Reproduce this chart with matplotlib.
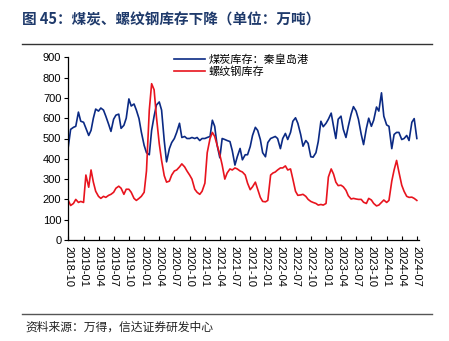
import pandas as pd
import matplotlib.pyplot as plt
import matplotlib.dates as mdates

plt.rcParams['font.family'] = ['Liberation Sans', 'Noto Sans CJK SC', 'DejaVu Sans']

# semi-monthly readings, 2018-10-01 .. 2024-07-01
start_date = "2018-10-01"

coal_qhd = [
    460, 545, 555, 560, 630, 585, 580, 550, 515, 540,
    600, 645, 635, 650, 640, 610, 570, 535, 595, 615,
    620, 550, 565, 600, 695, 660, 670, 640, 598, 532,
    466, 430, 420, 540, 610, 665, 680, 640, 490, 385,
    450, 480, 500, 530, 575, 505, 510, 500, 500, 505,
    500, 505, 490, 500, 500, 505, 510, 590, 560, 470,
    405, 500, 495, 490, 485, 440, 369, 410, 451, 395,
    420, 420, 460, 515, 555, 540, 495, 430, 410, 480,
    500, 505, 510, 500, 450, 500, 525, 495, 530, 585,
    602, 575, 520, 462, 490, 476, 410, 408, 430, 485,
    585, 558, 575, 595, 625, 560, 500, 595, 610, 545,
    505, 560, 620, 657, 635, 595, 520, 470, 550, 600,
    560, 590, 655, 635, 725, 610, 567, 560, 450, 520,
    530, 530, 495, 500, 515, 490, 580, 598, 500,
]

rebar = [
    195, 170, 180, 200, 185, 190, 185, 320, 260, 345,
    285, 240, 215, 205, 215, 210, 220, 225, 235, 255,
    265, 255, 225, 250, 250, 235, 205, 195, 205, 215,
    235, 340, 640, 770, 740, 607, 474, 392, 317, 285,
    290, 320, 340, 345, 360, 375, 360, 340, 320, 300,
    250, 235, 225, 240, 280, 430, 500, 530, 510, 470,
    420, 370, 300, 330, 350, 345, 355, 350, 340, 335,
    320, 280, 248, 262, 285, 250, 210, 190, 188, 195,
    320, 330, 335, 345, 355, 355, 365, 345, 350, 300,
    240, 220, 222, 225, 215, 200, 190, 185, 180, 172,
    175, 172, 180, 310, 350, 325, 285, 268, 270, 262,
    245, 218, 202, 205, 202, 200, 200, 186, 180, 205,
    197, 180, 168, 172, 185, 197, 185, 195, 290, 345,
    392, 335, 270, 240, 215, 210, 211, 205, 195,
]

series_names = ["煤炭库存：秦皇岛港", "螺纹钢库存"]
tick_dates = pd.date_range("2018-10-01", "2024-07-01", freq="QS")

dates = pd.date_range(start_date, periods=len(coal_qhd), freq="SMS")

fig = plt.figure(figsize=(4.49, 3.41), dpi=100)
W, H = 449, 341
ax = fig.add_axes([68.3 / W, 1 - 240 / H, (418.5 - 68.3) / W, (240 - 57.3) / H])

ax.plot(dates, coal_qhd, color="#0B2A84", lw=1.2, label=series_names[0])
ax.plot(dates, rebar, color="#E8141E", lw=1.2, label=series_names[1])

ax.set_ylim(0, 900)
ax.set_yticks(range(0, 901, 100))
ax.set_xlim(pd.Timestamp("2018-10-01"), pd.Timestamp("2024-07-11"))
ax.set_xticks(tick_dates)
ax.xaxis.set_major_formatter(mdates.DateFormatter("%Y-%m"))
for lab in ax.get_xticklabels():
    lab.set_rotation(-90)
    lab.set_va("top")
    lab.set_ha("center")

ax.tick_params(axis="x", direction="in", length=3, labelsize=8, pad=4)
ax.tick_params(axis="y", direction="out", length=3, labelsize=8, pad=2)
for s in ["top", "right"]:
    ax.spines[s].set_visible(False)
for s in ["left", "bottom"]:
    ax.spines[s].set_linewidth(0.9)

leg = ax.legend(loc="upper left", bbox_to_anchor=((174 - 68.3) / 350.2, 1.015),
                frameon=False, handlelength=2.8, handletextpad=0.3,
                borderpad=0, borderaxespad=0, labelspacing=0.15,
                prop={"family": ["Noto Sans CJK SC"], "size": 8})

# title and frame lines
fig.text(22 / W, 1 - 20 / H, "图 45：煤炭、螺纹钢库存下降（单位：万吨）",
         fontsize=10.5, fontweight="bold", color="#1F3A6B", va="center", ha="left",
         family=["Noto Sans CJK SC"])
fig.add_artist(plt.Line2D([22 / W, 432 / W], [1 - 44 / H, 1 - 44 / H],
                          color="#333333", lw=1.0))
fig.add_artist(plt.Line2D([22 / W, 432 / W], [1 - 314 / H, 1 - 314 / H],
                          color="#555555", lw=1.0))
fig.text(25 / W, 1 - 327 / H, "资料来源：万得，信达证券研发中心",
         fontsize=8.5, style="italic", color="#222222", va="center", ha="left",
         family=["Noto Sans CJK SC"])

fig.savefig("out.png", dpi=100)
